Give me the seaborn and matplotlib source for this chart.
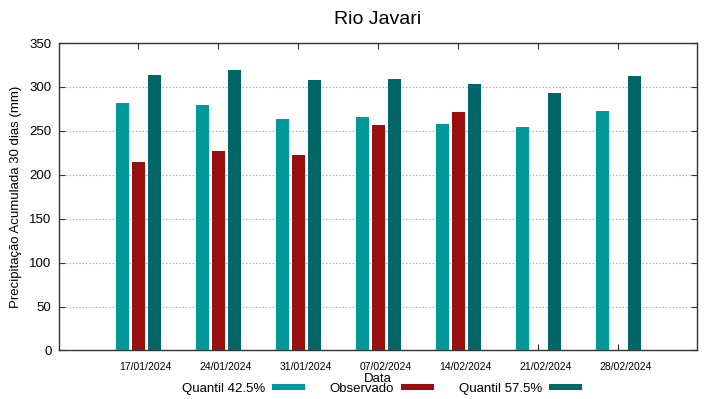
import numpy as np
import pandas as pd
import matplotlib
matplotlib.use("Agg")
import matplotlib.pyplot as plt
import matplotlib.transforms as mtransforms
import seaborn as sns

# ---- data ----
datas = ["17/01/2024", "24/01/2024", "31/01/2024", "07/02/2024",
         "14/02/2024", "21/02/2024", "28/02/2024"]
quantil_425 = [282, 280, 264, 266, 258, 254, 273]
observado = [214, 227, 222, 257, 272, np.nan, np.nan]
quantil_575 = [314, 319, 308, 309, 303, 293, 312]
series = ["Quantil 42.5%", "Observado", "Quantil 57.5%"]
colors = ["#009999", "#990f0f", "#006666"]

df = pd.DataFrame({
    "Data": datas * 3,
    "Serie": [series[0]] * 7 + [series[1]] * 7 + [series[2]] * 7,
    "Valor": quantil_425 + observado + quantil_575,
})

sns.set_style("ticks")
plt.rcParams["font.family"] = ["Liberation Sans", "DejaVu Sans"]
plt.rcParams["text.color"] = "black"
plt.rcParams["axes.labelcolor"] = "black"
plt.rcParams["xtick.color"] = "black"
plt.rcParams["ytick.color"] = "black"

fig = plt.figure(figsize=(7.19, 3.99), dpi=100)
ax = fig.add_axes([0.0814, 0.1216, 0.969 - 0.0814, 0.8922 - 0.1216])

sns.barplot(data=df, x="Data", y="Valor", hue="Serie", order=datas,
            hue_order=series, palette=colors, width=0.6, gap=0.2,
            errorbar=None, saturation=1, linewidth=0, ax=ax, zorder=3)

ax.set_xlim(-1.0, 6.98)
ax.set_ylim(0, 350)
ax.set_yticks(np.arange(0, 351, 50))
ax.yaxis.grid(True, linestyle=(0, (1, 2)), color="#999999", lw=0.8, zorder=0)
ax.xaxis.grid(False)

for s in ax.spines.values():
    s.set_visible(True)
    s.set_color("#333333")
    s.set_linewidth(1.0)

ax.tick_params(axis="y", which="both", direction="in", left=True, right=True,
               length=4, labelsize=9.5, pad=5, color="#333333")
ax.tick_params(axis="x", which="both", direction="in", bottom=True, top=True,
               length=4, labelsize=7.5, pad=8, color="#333333")

offset = mtransforms.ScaledTranslation(0.07, 0, fig.dpi_scale_trans)
for lab in ax.get_xticklabels():
    lab.set_transform(lab.get_transform() + offset)

ax.set_title("Rio Javari", fontsize=14, pad=14)
ax.set_xlabel("Data", fontsize=9.5)
ax.xaxis.set_label_coords(0.5, -0.073)
ax.set_ylabel("Precipitação Acumulada 30 dias (mm)", fontsize=9.5)
ax.yaxis.set_label_coords(-0.057, 0.5)

handles, labels = ax.get_legend_handles_labels()
ax.get_legend().remove()
fig.legend(handles, labels, loc="center", bbox_to_anchor=(0.531, 0.026),
           ncol=3, frameon=False, fontsize=9.5, markerfirst=False,
           handlelength=2.5, handleheight=0.4, handletextpad=0.55,
           columnspacing=1.85, borderaxespad=0)

fig.savefig("out.png", dpi=100)
